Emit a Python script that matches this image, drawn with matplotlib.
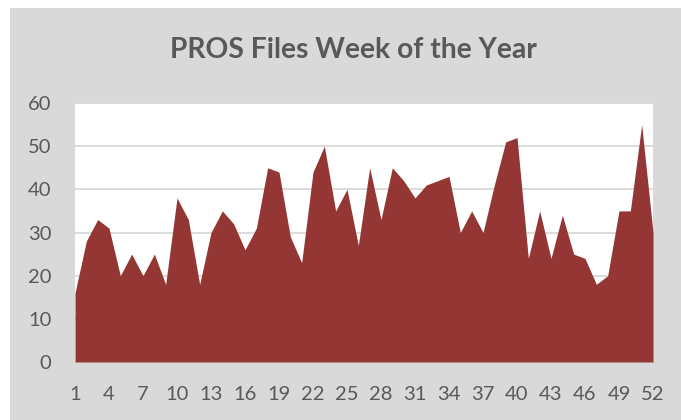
import matplotlib
matplotlib.use("Agg")
import matplotlib.pyplot as plt
from matplotlib.patches import Rectangle

weeks = list(range(1, 53))
files = [16, 28, 33, 31, 20, 25, 20, 25, 18, 38,
         33, 18, 30, 35, 32, 26, 31, 45, 44, 29,
         23, 44, 50, 35, 40, 27, 45, 33, 45, 42,
         38, 41, 42, 43, 30, 35, 30, 41, 51, 52,
         24, 35, 24, 34, 25, 24, 18, 20, 35, 35,
         55, 30]
xtick_labels = list(range(1, 53, 3))
ytick_values = [0, 10, 20, 30, 40, 50, 60]
title = "PROS Files Week of the Year"

W, H = 681, 420
fig = plt.figure(figsize=(W / 100, H / 100), dpi=100)
fig.patch.set_facecolor("white")
bg = Rectangle((10 / W, 0), 1 - 10 / W, (H - 8) / H,
               transform=fig.transFigure, facecolor="#D9D9D9",
               edgecolor="none", zorder=-10)
fig.add_artist(bg)

ax = fig.add_axes([75 / W, (H - 362) / H, 578 / W, 259 / H])
ax.set_zorder(5)
ax.set_facecolor("white")
ax.fill_between(weeks, files, 0, color="#943634", linewidth=0, zorder=3)
ax.set_xlim(1, 52)
ax.set_ylim(0, 60)
ax.set_yticks(ytick_values)
ax.set_xticks(xtick_labels)
ax.grid(axis="y", color="#D9D9D9", linewidth=1.3, zorder=1)
ax.set_axisbelow(True)
for s in ["top", "right", "left"]:
    ax.spines[s].set_visible(False)
ax.spines["bottom"].set_color("#D9D9D9")
ax.tick_params(axis="both", length=0, labelsize=14.5, labelcolor="#595959")
ax.tick_params(axis="y", pad=17)
ax.tick_params(axis="x", pad=17)
for lab in ax.get_xticklabels() + ax.get_yticklabels():
    lab.set_family("Lato")

fig.text(353 / W, 1 - 50 / H, title, ha="center", va="center",
         fontsize=20.3, fontweight="bold", color="#595959", family="Lato")

fig.savefig("out.png", dpi=100)
